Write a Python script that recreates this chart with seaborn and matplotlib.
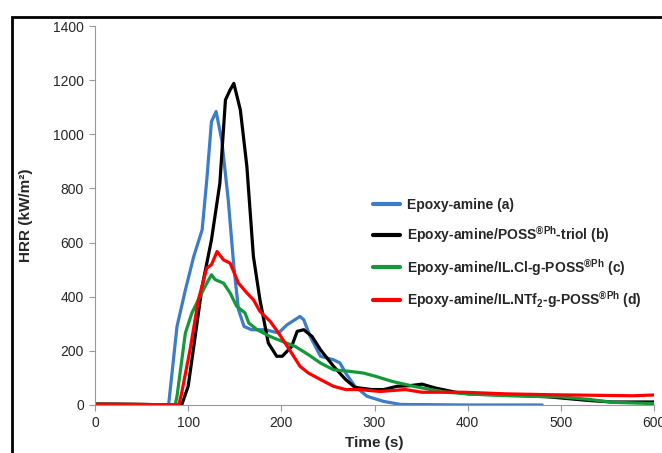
import matplotlib
matplotlib.use("Agg")
import matplotlib.pyplot as plt
import seaborn as sns
import pandas as pd
from matplotlib.patches import Rectangle

# ---- data ----
t_a = [0, 40, 79, 88, 97, 106, 115, 120, 125, 130, 136, 143, 149, 154, 160, 168, 183, 197, 206, 220, 224, 231, 242, 256, 263, 269, 279, 292, 310, 328, 400, 480]
hrr_a = [5, 2, 0, 290, 425, 549, 647, 832, 1047, 1084, 979, 758, 512, 352, 290, 278, 278, 266, 296, 327, 315, 253, 180, 167, 155, 118, 69, 32, 13, 2, 0, 0]

t_b = [0, 50, 93, 100, 106, 115, 125, 134, 140, 145, 149, 156, 163, 170, 177, 186, 195, 201, 211, 217, 224, 233, 242, 256, 269, 279, 297, 310, 324, 337, 351, 365, 387, 401, 442, 487, 532, 555, 600]
hrr_b = [3, 2, 0, 69, 216, 438, 610, 819, 1127, 1164, 1188, 1090, 881, 549, 389, 229, 180, 180, 216, 272, 278, 253, 204, 143, 94, 65, 57, 57, 69, 71, 77, 63, 47, 41, 38, 30, 16, 11, 11]

t_c = [0, 50, 86, 88, 97, 104, 111, 120, 125, 129, 138, 145, 152, 161, 165, 174, 188, 201, 215, 229, 242, 256, 274, 288, 301, 319, 342, 360, 378, 401, 428, 464, 500, 532, 555, 600]
hrr_c = [4, 2, 0, 32, 266, 340, 389, 450, 481, 463, 450, 414, 365, 340, 303, 278, 253, 235, 216, 186, 155, 130, 124, 118, 106, 87, 69, 57, 47, 41, 36, 32, 30, 20, 10, 5]

t_d = [0, 50, 90, 93, 102, 111, 120, 125, 131, 138, 145, 154, 163, 170, 177, 188, 197, 211, 220, 229, 242, 256, 269, 283, 306, 333, 351, 396, 442, 487, 532, 577, 600]
hrr_d = [3, 2, 0, 44, 204, 389, 506, 518, 567, 536, 524, 450, 414, 389, 346, 309, 266, 192, 143, 118, 94, 69, 57, 57, 50, 57, 47, 47, 41, 38, 36, 34, 37]

labels = [
    r"Epoxy-amine (a)",
    r"Epoxy-amine/POSS$^{\mathbf{®Ph}}$-triol (b)",
    r"Epoxy-amine/IL.Cl-g-POSS$^{\mathbf{®Ph}}$ (c)",
    r"Epoxy-amine/IL.NTf$_{\mathbf{2}}$-g-POSS$^{\mathbf{®Ph}}$ (d)",
]
colors = ["#3d7cc6", "#000000", "#14993a", "#ff0000"]

x_ticks = [0, 100, 200, 300, 400, 500, 600]
y_ticks = [0, 200, 400, 600, 800, 1000, 1200, 1400]

frames = []
for t, h, lab in zip([t_a, t_b, t_c, t_d], [hrr_a, hrr_b, hrr_c, hrr_d], labels):
    frames.append(pd.DataFrame({"Time": t, "HRR": h, "Series": lab}))
df = pd.concat(frames, ignore_index=True)

sns.set_theme(style="white")
plt.rcParams["font.family"] = ["Liberation Sans", "DejaVu Sans"]
plt.rcParams["mathtext.fontset"] = "custom"
plt.rcParams["mathtext.rm"] = "Liberation Sans"
plt.rcParams["mathtext.bf"] = "Liberation Sans:bold"
plt.rcParams["mathtext.it"] = "Liberation Sans:italic"

fig = plt.figure(figsize=(6.62, 4.53), dpi=100)
ax = fig.add_axes([0.1435, 0.106, 0.8445, 0.8366])

sns.lineplot(data=df, x="Time", y="HRR", hue="Series", palette=colors,
             hue_order=labels, estimator=None, sort=False, linewidth=2.3, ax=ax)

ax.set_xlim(0, 600)
ax.set_ylim(0, 1400)
ax.set_xticks(x_ticks)
ax.set_yticks(y_ticks)
ax.tick_params(axis="both", which="both", direction="out", length=4, width=0.8,
               color="#999999", labelsize=10, pad=4, left=True, bottom=True)
for s in ["top", "right"]:
    ax.spines[s].set_visible(False)
for s in ["left", "bottom"]:
    ax.spines[s].set_color("#999999")
    ax.spines[s].set_linewidth(0.8)

ax.set_xlabel("Time (s)", fontsize=11, fontweight="bold", labelpad=4)
ax.set_ylabel("HRR (kW/m²)", fontsize=11, fontweight="bold", labelpad=14)

leg = ax.legend(loc="upper left", bbox_to_anchor=(0.545, 0.59),
                bbox_transform=fig.transFigure, frameon=False,
                prop={"weight": "bold", "size": 10}, handlelength=1.9,
                handletextpad=0.5, labelspacing=0.85)
for line in leg.get_lines():
    line.set_linewidth(3)

# outer black frame
fig.patches.append(Rectangle((12 / 662, -0.05), 1.1, 1 - 17 / 453 + 0.05,
                             transform=fig.transFigure, fill=False,
                             edgecolor="black", linewidth=2, zorder=10))

fig.savefig("out.png", dpi=100)
